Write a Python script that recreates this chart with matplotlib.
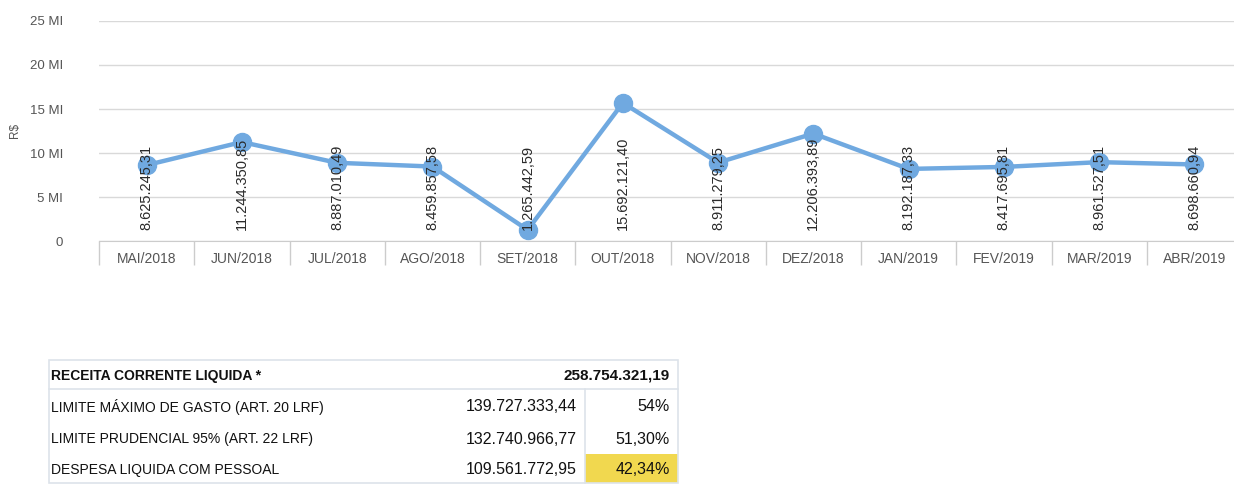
import matplotlib
matplotlib.use("Agg")
import matplotlib.pyplot as plt
from matplotlib.patches import Rectangle

plt.rcParams['font.family'] = ['Liberation Sans', 'DejaVu Sans']

months = ["MAI/2018", "JUN/2018", "JUL/2018", "AGO/2018", "SET/2018", "OUT/2018",
          "NOV/2018", "DEZ/2018", "JAN/2019", "FEV/2019", "MAR/2019", "ABR/2019"]
values = [8625245.31, 11244350.85, 8887010.49, 8459857.58, 1265442.59, 15692121.40,
          8911279.25, 12206393.89, 8192187.33, 8417695.81, 8961527.51, 8698660.94]
value_labels = ["8.625.245,31", "11.244.350,85", "8.887.010,49", "8.459.857,58",
                "1.265.442,59", "15.692.121,40", "8.911.279,25", "12.206.393,89",
                "8.192.187,33", "8.417.695,81", "8.961.527,51", "8.698.660,94"]
y_ticks = [0, 5e6, 10e6, 15e6, 20e6, 25e6]
y_tick_labels = ["0", "5 MI", "10 MI", "15 MI", "20 MI", "25 MI"]

table_labels = ["RECEITA CORRENTE LIQUIDA *", "LIMITE MÁXIMO DE GASTO (ART. 20 LRF)",
                "LIMITE PRUDENCIAL 95% (ART. 22 LRF)", "DESPESA LIQUIDA COM PESSOAL"]
table_amounts = ["258.754.321,19", "139.727.333,44", "132.740.966,77", "109.561.772,95"]
table_pcts = ["", "54%", "51,30%", "42,34%"]

W, H = 1234, 486
fig = plt.figure(figsize=(W / 100, H / 100), dpi=100)

# ---- line chart ----
x0, x1, y0, y1 = 99, 1242, 241, 21
ax = fig.add_axes([x0 / W, 1 - y0 / H, (x1 - x0) / W, (y0 - y1) / H])
xs = list(range(len(months)))
line_color = "#70a9e0"
ax.plot(xs, values, color=line_color, lw=3.2, marker="o", ms=13,
        mfc=line_color, mec=line_color, zorder=3, clip_on=False)
ax.set_xlim(-0.5, len(months) - 0.5)
ax.set_ylim(0, 25e6)
ax.set_yticks(y_ticks)
ax.set_yticklabels(y_tick_labels, fontsize=9.5, color="#555555")
ax.tick_params(axis="y", length=0, pad=26)
ax.grid(axis="y", color="#d9d9d9", lw=1)
ax.set_axisbelow(True)
for s in ["top", "right", "left"]:
    ax.spines[s].set_visible(False)
ax.spines["bottom"].set_color("#cccccc")

# category separator ticks
ax.set_xticks([i - 0.5 for i in range(len(months) + 1)], minor=False)
ax.set_xticklabels([])
ax.tick_params(axis="x", which="major", length=17, color="#cccccc", width=1)
ax.set_xticks(xs, minor=True)
ax.set_xticklabels(months, minor=True, fontsize=10, color="#555555")
ax.tick_params(axis="x", which="minor", length=0, pad=8)

for x, lab in zip(xs, value_labels):
    ax.text(x, 1.2e6, lab, rotation=90, ha="center", va="bottom",
            fontsize=10.5, color="#2a2a2a", zorder=4)

fig.text(15 / W, 1 - 130 / H, "R$", rotation=90, ha="center", va="center",
         fontsize=8.5, color="#555555")

# ---- table ----
tx = fig.add_axes([0, 0, 1, 1])
tx.set_xlim(0, W)
tx.set_ylim(H, 0)
tx.axis("off")

border = "#dde3ea"
tl, tr, tt, tb = 49, 678, 360, 483
row_edges = [360, 389, 422, 454, 483]
col_split = 585
# yellow highlight
tx.add_patch(Rectangle((col_split, row_edges[3]), tr - col_split, row_edges[4] - row_edges[3],
                       facecolor="#f1d84f", edgecolor="none", zorder=1))
tx.add_patch(Rectangle((tl, tt), tr - tl, tb - tt, facecolor="none",
                       edgecolor=border, lw=1.2, zorder=2))
tx.plot([tl, tr], [row_edges[1], row_edges[1]], color=border, lw=1.2, zorder=2)
tx.plot([col_split, col_split], [row_edges[1], tb], color=border, lw=1.2, zorder=2)

num_fs = 11.5
for i in range(4):
    yc = (row_edges[i] + row_edges[i + 1]) / 2 + 1
    weight = "bold" if i == 0 else "normal"
    tx.text(51, yc, table_labels[i], ha="left", va="center", fontsize=10,
            color="#111111", fontweight=weight, zorder=3)
    if i == 0:
        tx.text(670, yc, table_amounts[i], ha="right", va="center", fontsize=num_fs - 0.5,
                color="#111111", fontweight=weight, zorder=3)
    else:
        tx.text(577, yc, table_amounts[i], ha="right", va="center", fontsize=num_fs,
                color="#111111", zorder=3)
        tx.text(670, yc, table_pcts[i], ha="right", va="center", fontsize=num_fs,
                color="#111111", zorder=3)

fig.savefig("out.png", dpi=100)
